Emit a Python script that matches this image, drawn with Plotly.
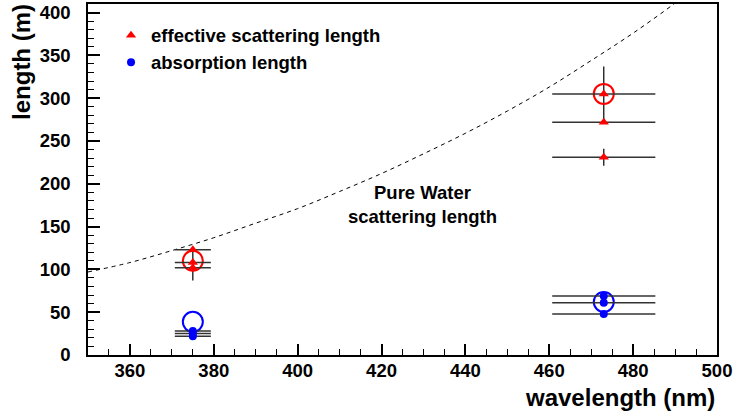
import plotly.graph_objects as go

# ---- data ----
scat_wl = [375, 375, 375, 473, 473, 473]
scat_len = [123, 108, 102, 305, 272, 231]
scat_xerr = [4.3, 4.3, 4.3, 12.3, 12.3, 12.3]
scat_yerr_plus = [0, 0, 0, 0, 0, 10]
scat_yerr_minus = [0, 0, 0, 0, 0, 10]

abs_wl = [375, 375, 375, 473, 473, 473]
abs_len = [28, 25, 22, 69, 61, 48]
abs_xerr = [4.3, 4.3, 4.3, 12.3, 12.3, 12.3]

scat_mean_wl = [375, 473]
scat_mean_len = [110, 305]
scat_mean_plus = [15, 32]
scat_mean_minus = [23, 33]

abs_mean_wl = [375, 473]
abs_mean_len = [38.7, 62]

water_wl = [350, 360, 370, 380, 390, 400, 410, 420, 430, 440, 450, 460, 470, 480, 490, 495]
water_len = [97, 108, 122, 137, 154, 171, 191, 212, 235, 259, 285, 313, 344, 376, 411, 430]

RED = "#ff0000"
BLUE = "#0000ff"
FONT = "Liberation Sans"

fig = go.Figure()

fig.add_trace(go.Scatter(
    x=water_wl, y=water_len, mode="lines", line_shape="spline",
    line=dict(color="black", width=1, dash="4px,4px"), showlegend=False,
    hoverinfo="skip"))

fig.add_trace(go.Scatter(
    x=scat_mean_wl, y=scat_mean_len, mode="markers", showlegend=False,
    marker=dict(symbol="circle-open", size=20, color=RED, line=dict(width=2, color=RED)),
    error_y=dict(type="data", symmetric=False, array=scat_mean_plus,
                 arrayminus=scat_mean_minus, color="black", thickness=1.2, width=0)))

fig.add_trace(go.Scatter(
    x=abs_mean_wl, y=abs_mean_len, mode="markers", showlegend=False,
    marker=dict(symbol="circle-open", size=20, color=BLUE, line=dict(width=2, color=BLUE))))

fig.add_trace(go.Scatter(
    x=scat_wl, y=scat_len, mode="markers", name="effective scattering length",
    marker=dict(symbol="triangle-up", size=9, color=RED),
    error_x=dict(type="data", array=scat_xerr, color="#333333", thickness=1.5, width=0),
    error_y=dict(type="data", symmetric=False, array=scat_yerr_plus,
                 arrayminus=scat_yerr_minus, color="black", thickness=1.2, width=0)))

fig.add_trace(go.Scatter(
    x=abs_wl, y=abs_len, mode="markers", name="absorption length",
    marker=dict(symbol="circle", size=8, color=BLUE),
    error_x=dict(type="data", array=abs_xerr, color="#333333", thickness=1.5, width=0)))

tickfont = dict(family=FONT, size=18.5, color="black", weight="bold")

fig.update_layout(
    width=734, height=417,
    margin=dict(l=88, r=17, t=2, b=62),
    paper_bgcolor="white", plot_bgcolor="white",
    showlegend=True,
    legend=dict(x=0.0366, y=0.964, xanchor="left", yanchor="top",
                bgcolor="rgba(0,0,0,0)", borderwidth=0,
                font=dict(family=FONT, size=18.5, color="black", weight="bold")),
    xaxis=dict(range=[350, 500], dtick=20, tick0=360, ticks="inside", ticklen=11,
               tickwidth=1.5, tickcolor="black", showline=True, linecolor="black",
               linewidth=1.5, mirror=True, showgrid=False, zeroline=False,
               tickfont=tickfont, ticklabelstandoff=-2,
               minor=dict(ticks="inside", ticklen=6, dtick=5, tickcolor="black",
                          tickwidth=1.2, showgrid=False)),
    yaxis=dict(range=[0, 410], dtick=50, ticks="inside", ticklen=12,
               tickwidth=1.5, tickcolor="black", showline=True, linecolor="black",
               linewidth=1.5, mirror=True, showgrid=False, zeroline=False,
               tickfont=tickfont, ticklabelstandoff=12,
               minor=dict(ticks="inside", ticklen=6, dtick=10, tickcolor="black",
                          tickwidth=1.2, showgrid=False)),
    annotations=[
        dict(text="wavelength (nm)", xref="paper", yref="paper", x=1.0, y=-0.1218,
             xanchor="right", yanchor="middle", showarrow=False,
             font=dict(family=FONT, size=24, color="black", weight="bold")),
        dict(text="length (m)", xref="paper", yref="paper", x=-0.105, y=1.0057,
             xanchor="center", yanchor="top", textangle=-90, showarrow=False,
             font=dict(family=FONT, size=24, color="black", weight="bold")),
        dict(text="Pure Water<br>scattering length", xref="x", yref="y", x=429.8, y=176,
             xanchor="center", yanchor="middle", showarrow=False, align="center",
             font=dict(family=FONT, size=18.5, color="black", weight="bold")),
    ],
)

fig.write_html("out.html")
